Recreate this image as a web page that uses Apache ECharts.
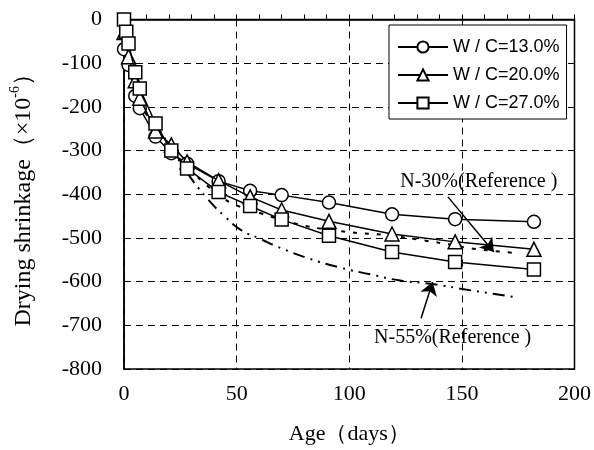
<!DOCTYPE html>
<html><head><meta charset="utf-8">
<script src="https://cdn.jsdelivr.net/npm/echarts@6/dist/echarts.min.js"></script>
<style>html,body{margin:0;padding:0;background:#fff}#c{width:594px;height:450px}</style>
</head><body><div id="c"></div>
<script>
// Data
const daysWC13 = [0, 2, 5, 7, 14, 21, 28, 42, 56, 70, 91, 119, 147, 182];
const valsWC13 = [-68, -104, -175, -203, -268, -306, -330, -370, -392, -402, -419, -446, -457, -463];
const daysWC20 = [0, 2, 5, 7, 14, 21, 28, 42, 56, 70, 91, 119, 147, 182];
const valsWC20 = [-30, -85, -140, -180, -255, -287, -326, -369, -406, -436, -462, -491, -509, -526];
const daysWC27 = [0, 1, 2, 5, 7, 14, 21, 28, 42, 56, 70, 91, 119, 147, 182];
const valsWC27 = [0, -28, -55, -121, -158, -238, -300, -341, -395, -427, -458, -495, -532, -555, -572];
const daysN30 = [0, 3, 7, 14, 21, 28, 35, 42, 48, 61, 76, 95, 117, 132, 147, 154, 175];
const valsN30 = [0, -120, -190, -245, -295, -335, -372, -400, -421, -444, -467, -484, -494, -505, -517, -524, -535];
const daysN55 = [0, 3, 7, 14, 21, 28, 31, 37, 45, 52, 60, 70, 82, 96, 110, 122, 136, 154, 173];
const valsN55 = [0, -120, -190, -240, -295, -350, -372, -410, -452, -482, -501, -524, -547, -568, -584, -597, -605, -620, -635];
const seriesNames = ['W / C=13.0%', 'W / C=20.0%', 'W / C=27.0%'];
const xTicks = [0, 50, 100, 150, 200];
const yTicks = [0, -100, -200, -300, -400, -500, -600, -700, -800];
// annotations (data coordinates)
const n30Label = 'N-30%(Reference )';
const n30Arrow = [[143.8, -406], [164.2, -532]];
const n30LabelPos = [157.5, -372];
const n55Label = 'N-55%(Reference )';
const n55Arrow = [[131.9, -684], [137, -601]];
const n55LabelPos = [145.9, -729];

const zip = (a, b) => a.map((x, i) => [x, b[i]]);
const serif = 'Liberation Serif, Times New Roman, serif';
const sans = 'Liberation Sans, Arial, sans-serif';

const markerBase = {
  type: 'line', showSymbol: true, symbolSize: 13,
  lineStyle: { color: '#000', width: 1.5 },
  itemStyle: { color: '#fff', borderColor: '#000', borderWidth: 1.5 },
  emphasis: { disabled: true }, animation: false
};

const chart = echarts.init(document.getElementById('c'), null, { renderer: 'canvas' });
chart.setOption({
  animation: false,
  backgroundColor: '#fff',
  grid: { left: 122, right: 19, top: 19.5, bottom: 81, show: true, borderColor: '#000', borderWidth: 1.5, backgroundColor: 'transparent' },
  legend: {
    data: seriesNames, orient: 'vertical', left: 389, top: 25,
    padding: [12, 7, 6, 8], itemGap: 8, itemWidth: 50, itemHeight: 14,
    backgroundColor: '#fff', borderColor: '#000', borderWidth: 1,
    textStyle: { fontFamily: sans, fontSize: 18, color: '#000', lineHeight: 20 },
    selectedMode: false
  },
  xAxis: {
    type: 'value', min: 0, max: 200, interval: 50,
    name: 'Age（days）', nameLocation: 'middle', nameGap: 54,
    nameTextStyle: { fontFamily: serif, fontSize: 22, color: '#000' },
    axisLine: { lineStyle: { color: '#000', width: 1.5 } },
    axisTick: { inside: true, length: 5, lineStyle: { color: '#000' } },
    minorTick: { show: true, splitNumber: 5, length: 5, lineStyle: { color: '#000' } },
    axisLabel: { fontFamily: serif, fontSize: 22, color: '#000', margin: 14,
      formatter: v => xTicks.includes(v) ? String(v) : '' },
    splitLine: { show: true, lineStyle: { color: '#000', type: [7, 5], width: 1 } }
  },
  yAxis: {
    type: 'value', min: -800, max: 0, interval: 100,
    name: '{a|Drying shrinkage（×10}{b|-6}{a|）}', nameLocation: 'middle', nameGap: 88, nameRotate: 90,
    nameTextStyle: { rich: {
      a: { fontFamily: serif, fontSize: 24, color: '#000', lineHeight: 28, verticalAlign: 'bottom' },
      b: { fontFamily: serif, fontSize: 14, color: '#000', lineHeight: 28, verticalAlign: 'top', padding: [0, 0, 13, 0] }
    } },
    axisLine: { lineStyle: { color: '#000', width: 1.5 } },
    axisTick: { inside: true, length: 5, lineStyle: { color: '#000' } },
    axisLabel: { fontFamily: serif, fontSize: 22, color: '#000', margin: 22,
      formatter: v => yTicks.includes(v) ? String(v) : '' },
    splitLine: { show: true, lineStyle: { color: '#000', type: [7, 5], width: 1 } }
  },
  series: [
    { name: 'N-30', type: 'line', data: zip(daysN30, valsN30), showSymbol: false, smooth: true,
      lineStyle: { color: '#000', width: 2, type: [4, 8] }, emphasis: { disabled: true }, z: 1,
      markLine: { silent: true, symbol: ['none', 'arrow'], symbolSize: 13, animation: false,
        lineStyle: { color: '#000', width: 1.5, type: 'solid' }, label: { show: false },
        data: [[{ coord: n30Arrow[0] }, { coord: n30Arrow[1] }]] },
      markPoint: { silent: true, symbol: 'rect', symbolSize: 1, itemStyle: { color: 'transparent' },
        label: { show: true, position: 'inside', formatter: n30Label, fontFamily: serif, fontSize: 20, color: '#000' },
        data: [{ coord: n30LabelPos }] } },
    { name: 'N-55', type: 'line', data: zip(daysN55, valsN55), showSymbol: false, smooth: true,
      lineStyle: { color: '#000', width: 2, type: [12, 6, 2, 6, 2, 6] }, emphasis: { disabled: true }, z: 1,
      markLine: { silent: true, symbol: ['none', 'arrow'], symbolSize: 13, animation: false,
        lineStyle: { color: '#000', width: 1.5, type: 'solid' }, label: { show: false },
        data: [[{ coord: n55Arrow[0] }, { coord: n55Arrow[1] }]] },
      markPoint: { silent: true, symbol: 'rect', symbolSize: 1, itemStyle: { color: 'transparent' },
        label: { show: true, position: 'inside', formatter: n55Label, fontFamily: serif, fontSize: 20, color: '#000' },
        data: [{ coord: n55LabelPos }] } },
    Object.assign({}, markerBase, { name: seriesNames[0], symbol: 'circle', data: zip(daysWC13, valsWC13), z: 3 }),
    Object.assign({}, markerBase, { name: seriesNames[1], symbol: 'triangle', symbolSize: 14, data: zip(daysWC20, valsWC20), z: 4 }),
    Object.assign({}, markerBase, { name: seriesNames[2], symbol: 'rect', data: zip(daysWC27, valsWC27), z: 5 })
  ]
});
</script></body></html>
